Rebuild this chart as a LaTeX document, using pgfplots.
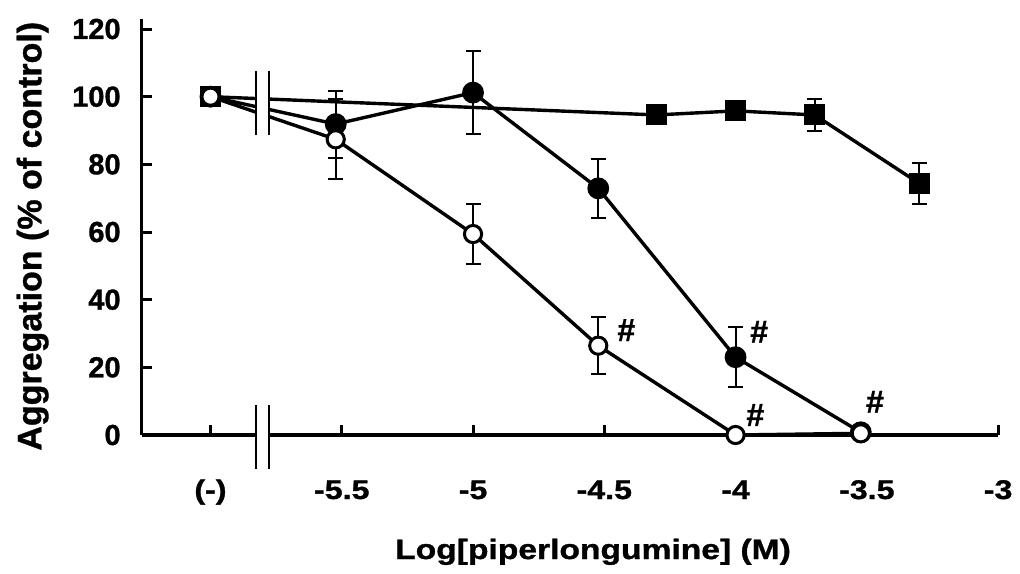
\documentclass[border=0pt]{standalone}
\usepackage{fontspec}
\setmainfont{Liberation Sans}[BoldFeatures={FakeBold=1}]
\usepackage{graphicx}
\usepackage{pgfplots}
\pgfplotsset{compat=1.18}

% x-axis texts are a little wider than tall in the reference
\newcommand{\xs}[1]{\scalebox{1.19}[1]{#1}}

\pgfplotsset{
  errstyle/.style={error bars/.cd, y dir=both, y explicit,
    error bar style={line width=1pt, black},
    error mark options={rotate=90, mark size=3.75pt, line width=1pt, black}},
}

\begin{document}
\begin{tikzpicture}
\useasboundingbox (-70.85pt,-69pt) rectangle (439.15pt,217.5pt);
\begin{axis}[at={(0,0)}, anchor=south west, scale only axis,
  width=428.2pt, height=207.9pt,
  xmin=-6.262, xmax=-3, ymin=0, ymax=122.9,
  axis lines*=left, axis line style={line width=1.6pt},
  xtick={-6,-5.5,-5,-4.5,-4,-3.5,-3},
  xticklabels={\xs{(-)},\xs{-5.5},\xs{-5},\xs{-4.5},\xs{-4},\xs{-3.5},\xs{-3}},
  ytick={0,20,40,60,80,100,120},
  tick align=inside, major tick length=5pt,
  tick style={line width=1.5pt, black},
  /pgf/number format/assume math mode=true,
  xticklabel style={font=\fontsize{13.5}{15}\selectfont\bfseries, anchor=base, yshift=-32pt},
  yticklabel style={font=\fontsize{14.5}{16}\selectfont\bfseries, xshift=-7pt},
  xlabel={\scalebox{1.2}[1]{Log[piperlongumine] (M)}},
  xlabel style={font=\fontsize{14}{16}\selectfont\bfseries,
    at={(axis description cs:0.527,0)}, anchor=base, yshift=-62pt},
  ylabel={Aggregation (\% of control)},
  ylabel style={font=\fontsize{17}{19}\selectfont\bfseries,
    at={(axis description cs:-0.1172,0.478)}, anchor=base},
  clip=false]

% control + piperlongumine alone (squares)
\addplot[black, line width=1.7pt, mark=square*, mark size=4.5pt,
  mark options={fill=black, line width=1.5pt}, errstyle]
  coordinates {(-6,100) +- (0,0) (-4.301,94.6) +- (0,0) (-4,95.8) +- (0,0)
               (-3.699,94.6) +- (0,4.6) (-3.301,74.4) +- (0,6)};

% filled circles
\addplot[black, line width=1.7pt, mark=*, mark size=4.7pt,
  mark options={fill=black, line width=1.5pt}, errstyle]
  coordinates {(-6,100) +- (0,0) (-5.523,91.9) +- (0,9.9) (-5,101.2) +- (0,12.2)
               (-4.523,72.9) +- (0,8.8) (-4,23.0) +- (0,8.9) (-3.523,0.8) +- (0,0)};

% open circles
\addplot[black, line width=1.7pt, mark=*, mark size=4.3pt,
  mark options={fill=white, line width=1.5pt}, errstyle]
  coordinates {(-6,100) +- (0,0) (-5.523,87.4) +- (0,11.8) (-5,59.4) +- (0,9)
               (-4.523,26.4) +- (0,8.4) (-4,0) +- (0,0) (-3.523,0.5) +- (0,0)};

\node[font=\fontsize{16}{18}\selectfont\bfseries] at (axis cs:-4.416,31.0) {\#};
\node[font=\fontsize{16}{18}\selectfont\bfseries] at (axis cs:-3.910,30.5) {\#};
\node[font=\fontsize{16}{18}\selectfont\bfseries] at (axis cs:-3.925,5.9) {\#};
\node[font=\fontsize{16}{18}\selectfont\bfseries] at (axis cs:-3.469,9.8) {\#};

% break positions
\coordinate (ta) at (axis cs:-5.825,88.7);
\coordinate (tb) at (axis cs:-5.779,107.7);
\coordinate (ba) at (axis cs:-5.825,-10);
\coordinate (bb) at (axis cs:-5.779,8.9);
\end{axis}

\fill[white] (ta) rectangle (tb);
\fill[white] (ba) rectangle (bb);
\draw[line width=1pt] (ta) -- (ta |- tb) (tb) -- (tb |- ta);
\draw[line width=1pt] (ba) -- (ba |- bb) (bb) -- (bb |- ba);
\end{tikzpicture}
\end{document}
